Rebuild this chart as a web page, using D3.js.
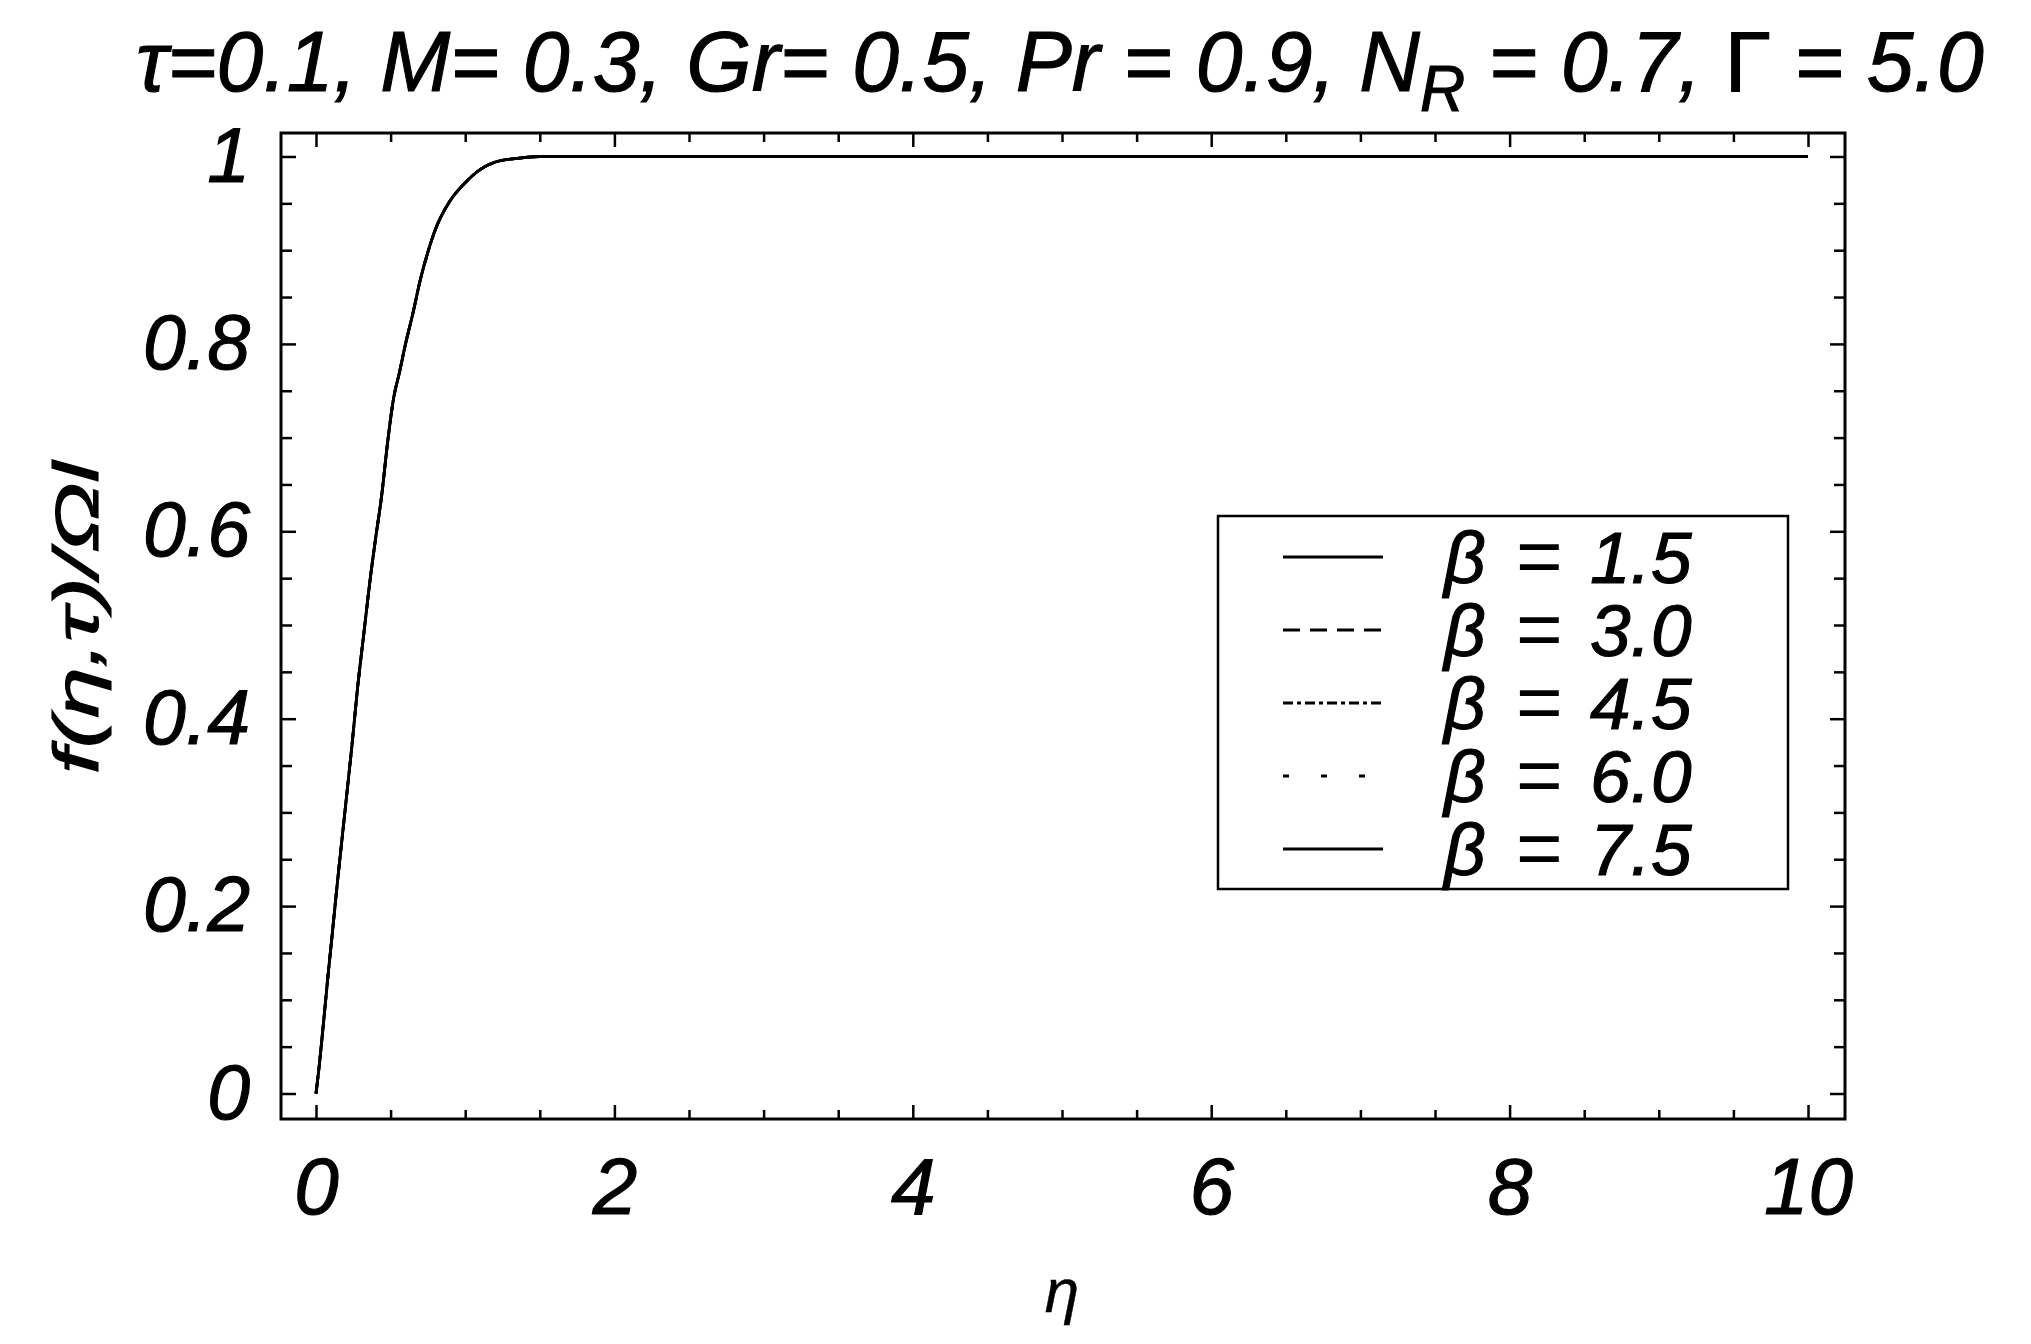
<!DOCTYPE html>
<html>
<head>
<meta charset="utf-8">
<script src="https://cdn.jsdelivr.net/npm/d3@7"></script>
<style>
  html, body { margin: 0; padding: 0; background: #fff; }
  svg { display: block; }
  text { font-family: "Liberation Sans", Arial, sans-serif; fill: #000; stroke: #000; stroke-width: 1.1px; }
</style>
</head>
<body>
<svg id="chart" width="2031" height="1344"></svg>
<script>
// values: all five profiles lie on top of each other
const betaValues = [1.5, 3.0, 4.5, 6.0, 7.5];
const etaPoints = [0, 0.02, 0.05, 0.08, 0.11, 0.14, 0.17, 0.20, 0.24, 0.28, 0.32, 0.36, 0.40,
  0.44, 0.48, 0.52, 0.56, 0.60, 0.65, 0.70, 0.75, 0.80, 0.90, 1.00, 1.10, 1.20, 1.35, 1.50,
  1.70, 2.0, 3.0, 4.0, 5.0, 6.0, 7.0, 8.0, 9.0, 10.0];
const fBeta15 = [0, 0.027, 0.075, 0.125, 0.172, 0.22, 0.265, 0.31, 0.37, 0.435, 0.49, 0.545, 0.593,
  0.638, 0.695, 0.742, 0.77, 0.80, 0.833, 0.869, 0.898, 0.922, 0.953, 0.972, 0.986, 0.994, 0.998, 1.0,
  1.0, 1.0, 1.0, 1.0, 1.0, 1.0, 1.0, 1.0, 1.0, 1.0];
const fBeta30 = fBeta15.slice();
const fBeta45 = fBeta15.slice();
const fBeta60 = fBeta15.slice();
const fBeta75 = fBeta15.slice();
const seriesValues = [fBeta15, fBeta30, fBeta45, fBeta60, fBeta75];
const dashStyles = ["none", "17,10", "10,4,4,4", "6,32", "none"];

const xMajorTicks = [0, 2, 4, 6, 8, 10];
const xMinorTicks = d3.range(0, 10.01, 0.5).filter(v => v % 2 !== 0);
const yMajorTicks = [0, 0.2, 0.4, 0.6, 0.8, 1];
const yMinorTicks = d3.range(0, 1.001, 0.05).filter(v => Math.abs(v * 5 - Math.round(v * 5)) > 1e-6);

const svg = d3.select("#chart");
const frame = {left: 281, right: 1845, top: 133, bottom: 1119};

const x = d3.scaleLinear().domain([0, 10]).range([316, 1808]);
const y = d3.scaleLinear().domain([0, 1]).range([1093.5, 156.5]);

// curves
const line = d3.line()
  .x(d => x(d[0]))
  .y(d => y(d[1]))
  .curve(d3.curveMonotoneX);

seriesValues.forEach((vals, i) => {
  svg.append("path")
    .datum(etaPoints.map((e, j) => [e, vals[j]]))
    .attr("d", line)
    .attr("fill", "none")
    .attr("stroke", "#000")
    .attr("stroke-width", 2.8)
    .attr("stroke-dasharray", dashStyles[i]);
});

// axes with inward ticks on all four sides
function styleAxis(g) {
  g.select(".domain").remove();
  g.selectAll(".tick line").attr("stroke", "#000").attr("stroke-width", 2.5);
}

svg.append("g")
  .attr("transform", `translate(0,${frame.bottom})`)
  .call(d3.axisBottom(x).tickValues(xMajorTicks).tickSize(-14).tickPadding(38).tickFormat(d3.format("d")))
  .call(styleAxis)
  .call(g => g.selectAll("text")
    .attr("font-family", "Liberation Sans, Arial, sans-serif")
    .attr("font-style", "italic")
    .attr("font-size", 80)
    .attr("fill", "#000"));

svg.append("g")
  .attr("transform", `translate(0,${frame.bottom})`)
  .call(d3.axisBottom(x).tickValues(xMinorTicks).tickSize(-9).tickFormat(""))
  .call(styleAxis);

svg.append("g")
  .attr("transform", `translate(0,${frame.top})`)
  .call(d3.axisTop(x).tickValues(xMajorTicks).tickSize(-14).tickFormat(""))
  .call(styleAxis);

svg.append("g")
  .attr("transform", `translate(0,${frame.top})`)
  .call(d3.axisTop(x).tickValues(xMinorTicks).tickSize(-9).tickFormat(""))
  .call(styleAxis);

svg.append("g")
  .attr("transform", `translate(${frame.left},0)`)
  .call(d3.axisLeft(y).tickValues(yMajorTicks).tickSize(-15).tickPadding(31)
    .tickFormat(d => d === 0 || d === 1 ? d3.format("d")(d) : d3.format(".1f")(d)))
  .call(styleAxis)
  .call(g => g.selectAll("text")
    .attr("font-family", "Liberation Sans, Arial, sans-serif")
    .attr("font-style", "italic")
    .attr("font-size", 77)
    .attr("fill", "#000"));

svg.append("g")
  .attr("transform", `translate(${frame.left},0)`)
  .call(d3.axisLeft(y).tickValues(yMinorTicks).tickSize(-11).tickFormat(""))
  .call(styleAxis);

svg.append("g")
  .attr("transform", `translate(${frame.right},0)`)
  .call(d3.axisRight(y).tickValues(yMajorTicks).tickSize(-15).tickFormat(""))
  .call(styleAxis);

svg.append("g")
  .attr("transform", `translate(${frame.right},0)`)
  .call(d3.axisRight(y).tickValues(yMinorTicks).tickSize(-11).tickFormat(""))
  .call(styleAxis);

// frame
svg.append("rect")
  .attr("x", frame.left).attr("y", frame.top)
  .attr("width", frame.right - frame.left).attr("height", frame.bottom - frame.top)
  .attr("fill", "none").attr("stroke", "#000").attr("stroke-width", 3);

// fit a text element horizontally to a given width
function fitWidth(sel, x0, width) {
  const w = sel.node().getBBox().width;
  sel.attr("transform", `translate(${x0},0) scale(${width / w},1) translate(${-x0},0)`);
}

// title
const title = svg.append("text")
  .attr("x", 136).attr("y", 91)
  .attr("font-size", 86)
  .attr("font-style", "italic");
title.append("tspan").text("τ=0.1, M= 0.3, Gr= 0.5, Pr = 0.9, N");
title.append("tspan").attr("font-size", 64).attr("dy", 20).text("R");
title.append("tspan").attr("dy", -20).text(" = 0.7, ");
title.append("tspan").attr("font-style", "normal").text("Γ");
title.append("tspan").text(" = 5.0");
fitWidth(title, 136, 1848);

// axis labels
svg.append("text")
  .attr("x", 1062).attr("y", 1312)
  .attr("text-anchor", "middle")
  .attr("font-size", 62)
  .attr("font-style", "italic")
  .style("stroke-width", "0.4px")
  .text("η");

const ylab = svg.append("text")
  .attr("font-size", 62)
  .attr("font-style", "italic")
  .attr("text-anchor", "middle")
  .text("f(η,τ)/Ωl");
{
  const w = ylab.node().getComputedTextLength();
  ylab.attr("transform", `translate(98,618) rotate(-90) scale(${312 / w},1)`);
}

// legend
const legend = svg.append("g");
legend.append("rect")
  .attr("x", 1218).attr("y", 516)
  .attr("width", 570).attr("height", 373)
  .attr("fill", "#fff").attr("stroke", "#000").attr("stroke-width", 2.5);

betaValues.forEach((b, i) => {
  const cy = 557 + i * 73;
  legend.append("line")
    .attr("x1", 1283).attr("x2", 1383)
    .attr("y1", cy).attr("y2", cy)
    .attr("stroke", "#000").attr("stroke-width", 3)
    .attr("stroke-dasharray", dashStyles[i]);
  const t = legend.append("text")
    .attr("y", cy + 26)
    .attr("font-size", 73);
  t.append("tspan").attr("x", 1444).attr("font-style", "italic").text("β");
  t.append("tspan").attr("x", 1516).attr("font-size", 80).style("stroke-width", "0px").text("=");
  t.append("tspan").attr("x", 1590).attr("font-style", "italic").text(d3.format(".1f")(b));
});
</script>
</body>
</html>
